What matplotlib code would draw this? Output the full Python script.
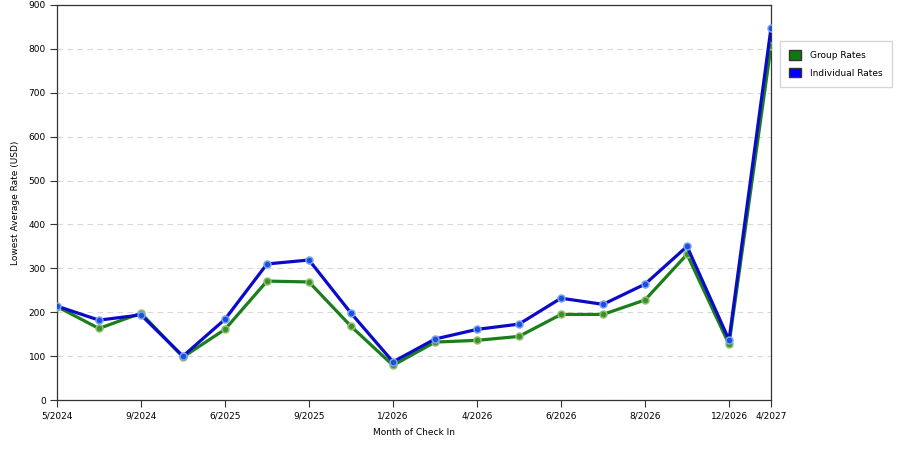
import matplotlib
matplotlib.use("Agg")
import matplotlib.pyplot as plt
from matplotlib.patches import Patch

months = ["5/2024", "7/2024", "9/2024", "11/2024", "6/2025", "8/2025", "9/2025",
          "11/2025", "1/2026", "3/2026", "4/2026", "5/2026", "6/2026", "7/2026",
          "8/2026", "10/2026", "12/2026", "4/2027"]
tick_idx = [0, 2, 4, 6, 8, 10, 12, 14, 16, 17]
tick_labels = ["5/2024", "9/2024", "6/2025", "9/2025", "1/2026", "4/2026",
               "6/2026", "8/2026", "12/2026", "4/2027"]
group_rates = [213, 163, 198, 98, 161, 271, 269, 168, 79, 132, 136, 145, 195, 195, 228, 332, 127, 806]
indiv_rates = [214, 182, 194, 100, 184, 310, 319, 198, 87, 139, 161, 173, 232, 218, 264, 350, 137, 848]

plt.rcParams["font.family"] = ["DejaVu Sans"]
plt.rcParams["font.size"] = 6.5

fig = plt.figure(figsize=(9, 4.5), dpi=100)
ax = fig.add_axes([0.0633, 0.111, 0.7934, 0.878])

x = list(range(len(months)))
# ── series ───────────────────────────
ax.plot(x, group_rates, color="#1a7f1a", lw=2.3, marker="o", ms=5,
        mfc="#3d8f2a", mec="#8fc070", mew=1.1, zorder=3, solid_capstyle="round")
ax.plot(x, indiv_rates, color="#0a0ac8", lw=2.3, marker="o", ms=5,
        mfc="#1a4ee0", mec="#7aa0f0", mew=1.1, zorder=4, solid_capstyle="round")

ax.set_xlim(0, 17)
ax.set_ylim(0, 900)
ax.set_yticks(range(0, 901, 100))
ax.set_xticks(tick_idx)
ax.set_xticklabels(tick_labels)
ax.yaxis.grid(True, ls=(0, (5, 4)), color="#d8d8d8", lw=0.8)
ax.set_axisbelow(True)
ax.tick_params(direction="out", length=5, width=0.8, color="#333333", pad=3)
for s in ax.spines.values():
    s.set_color("#333333")
    s.set_linewidth(0.9)

ax.set_xlabel("Month of Check In", labelpad=6)
ax.set_ylabel("Lowest Average Rate (USD)", labelpad=6)

handles = [Patch(facecolor="#0e7a0e", edgecolor="#333333", label="Group Rates"),
           Patch(facecolor="#0000ff", edgecolor="#333333", label="Individual Rates")]
fig.legend(handles=handles, loc="upper left", bbox_to_anchor=(0.862, 0.918),
           frameon=True, fancybox=False, edgecolor="#cccccc", handlelength=1.3,
           handleheight=1.3, borderpad=1.0, labelspacing=0.8, handletextpad=1.0)

fig.savefig("out.png", dpi=100)
